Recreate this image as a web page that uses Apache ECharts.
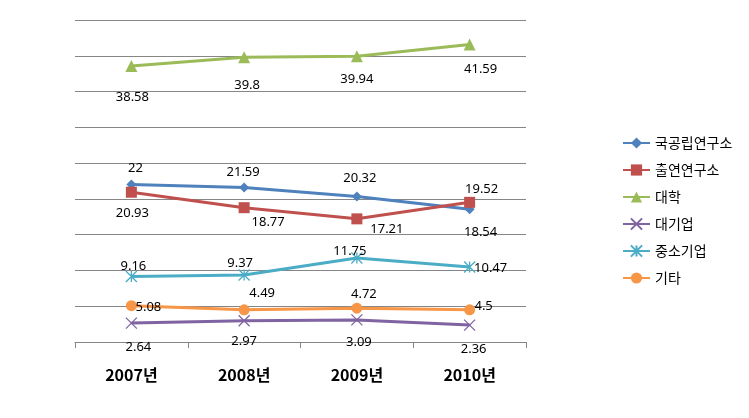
<!DOCTYPE html>
<html><head><meta charset="utf-8">
<script src="https://cdn.jsdelivr.net/npm/echarts@6/dist/echarts.min.js"></script>
<style>html,body{margin:0;padding:0;background:#fff}#c{width:749px;height:418px}</style>
</head><body><div id="c"></div>
<script>
var categories = ['2007년','2008년','2009년','2010년'];
var seriesNames = ['국공립연구소','출연연구소','대학','대기업','중소기업','기타'];
var national = [22, 21.59, 20.32, 18.54];
var govFunded = [20.93, 18.77, 17.21, 19.52];
var university = [38.58, 39.8, 39.94, 41.59];
var largeFirm = [2.64, 2.97, 3.09, 2.36];
var smeFirm = [9.16, 9.37, 11.75, 10.47];
var others = [5.08, 4.49, 4.72, 4.5];

// label offsets (style only)
var labelOffsets = {
  '국공립연구소': [[4,-16],[-1,-15],[3,-18],[11,23]],
  '출연연구소': [[1,21],[24,15],[30,10],[12,-13]],
  '대학': [[1,31],[3,28],[0,23],[11,25]],
  '대기업': [[7,24],[0,21],[2,22],[4,24]],
  '중소기업': [[2,-10],[-4,-12],[-7,-7],[21,1]],
  '기타': [[17,2],[18,-17],[7,-14],[14,-4]]
};
var colors = ['#4F81BD','#C0504D','#9BBB59','#8064A2','#4BACC6','#F79646'];
var symbols = ['diamond','rect','triangle','path://M0,0 L10,10 M10,0 L0,10','path://M0,0 L10,10 M10,0 L0,10 M5,0 L5,10','circle'];
var sizes = [10,11,12,11,11,11];
var values = [national, govFunded, university, largeFirm, smeFirm, others];
var lineWidths = [3,3,3,3,3,3];

var series = seriesNames.map(function(name, s){
  var isPath = symbols[s].indexOf('path://') === 0;
  return {
    name: name, type: 'line', symbol: symbols[s], symbolSize: sizes[s],
    lineStyle: {color: colors[s], width: lineWidths[s]},
    itemStyle: isPath ? {color: colors[s], borderColor: colors[s], borderWidth: 1.3} : {color: colors[s]},
    label: {show: true, position: 'inside', color: '#000', fontSize: 13, fontFamily: 'Noto Sans, sans-serif'},
    emphasis: {disabled: true},
    animation: false,
    data: values[s].map(function(v, i){
      return {value: v, label: {offset: labelOffsets[name][i]}};
    })
  };
});

var chart = echarts.init(document.getElementById('c'));
chart.setOption({
  animation: false,
  color: colors,
  grid: {left: 75, right: 223, top: 20, bottom: 76, containLabel: false},
  legend: {
    orient: 'vertical', left: 617, top: 131, itemWidth: 27, itemHeight: 14, itemGap: 13,
    textStyle: {fontSize: 14, color: '#000', fontFamily: 'Noto Sans CJK KR'},
    data: seriesNames
  },
  xAxis: {
    type: 'category', data: categories, boundaryGap: true,
    axisLine: {lineStyle: {color: '#868686', width: 1}},
    axisTick: {show: true, length: 6, lineStyle: {color: '#868686'}},
    axisLabel: {margin: 25, fontSize: 16, fontWeight: 'bold', color: '#000', fontFamily: 'Noto Sans CJK KR'}
  },
  yAxis: {
    type: 'value', min: 0, max: 45, interval: 5,
    axisLine: {show: false}, axisTick: {show: false}, axisLabel: {show: false},
    splitLine: {lineStyle: {color: '#868686', width: 1}}
  },
  series: series
});
</script></body></html>
